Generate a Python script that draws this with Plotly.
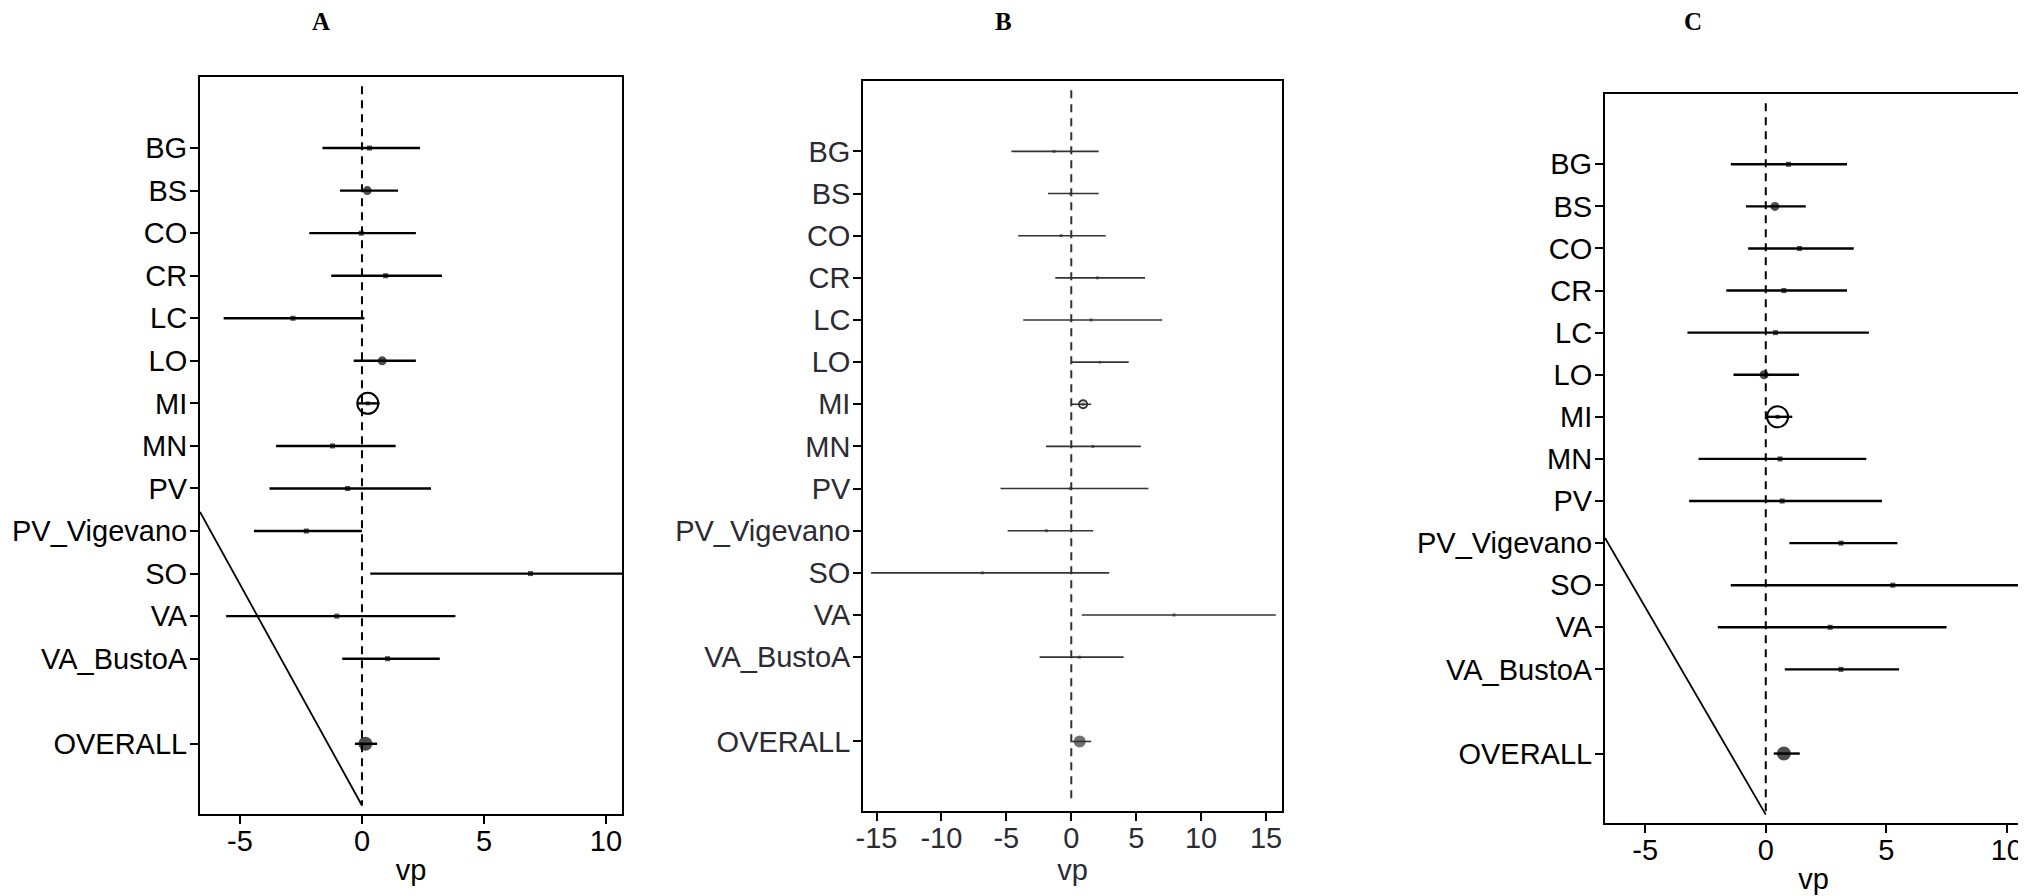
import plotly.graph_objects as go

# ---------------- data ----------------
sites = ["BG", "BS", "CO", "CR", "LC", "LO", "MI", "MN", "PV",
         "PV_Vigevano", "SO", "VA", "VA_BustoA", "OVERALL"]
ypos = [14, 13, 12, 11, 10, 9, 8, 7, 6, 5, 4, 3, 2, 0]

est_A = [0.31, 0.22, -0.03, 0.97, -2.83, 0.83, 0.24, -1.21, -0.59, -2.28, 6.91, -1.03, 1.05, 0.14]
lo_A = [-1.62, -0.90, -2.16, -1.26, -5.67, -0.34, -0.16, -3.52, -3.79, -4.43, 0.34, -5.57, -0.81, -0.29]
hi_A = [2.38, 1.48, 2.21, 3.28, 0.10, 2.21, 0.72, 1.38, 2.83, 0.00, 13.5, 3.83, 3.19, 0.62]

est_B = [-1.33, -0.06, -0.78, 2.01, 1.53, 2.20, 0.91, 1.66, -0.06, -1.92, -6.85, 7.92, 0.62, 0.65]
lo_B = [-4.61, -1.79, -4.09, -1.23, -3.70, 0.03, 0.00, -1.95, -5.45, -4.90, -15.42, 0.81, -2.44, 0.06]
hi_B = [2.11, 2.11, 2.66, 5.68, 7.01, 4.42, 1.53, 5.36, 5.94, 1.69, 2.92, 15.75, 4.03, 1.53]

est_C = [0.94, 0.38, 1.40, 0.75, 0.40, -0.07, 0.49, 0.59, 0.68, 3.12, 5.27, 2.67, 3.12, 0.75]
lo_C = [-1.45, -0.82, -0.73, -1.64, -3.25, -1.34, 0.00, -2.79, -3.18, 0.98, -1.45, -1.99, 0.79, 0.33]
hi_C = [3.37, 1.66, 3.65, 3.37, 4.28, 1.38, 1.10, 4.17, 4.82, 5.46, 12.0, 7.50, 5.53, 1.41]

# slanted reference lines (A and C) : x, y end points
slant_A_x = [-6.64, 0.0]
slant_A_y = [5.45, -1.45]
slant_C_x = [-6.67, 0.0]
slant_C_y = [5.12, -1.45]

# null line extent
null_y = [15.45, -1.45]

xtick_A = [-5, 0, 5, 10]
xtick_B = [-15, -10, -5, 0, 5, 10, 15]
xtick_C = [-5, 0, 5, 10]

panel_titles = ["A", "B", "C"]

# ---------------- styles ----------------
OFF = 8                      # default page body margin
W, H = 2026 - OFF, 896 - OFF
FONT = "Liberation Sans, Arial, sans-serif"
FS = 29
size_AC = [5, 9, 5, 5, 5, 9, 4, 5, 5, 5, 5, 5, 5, 14]
size_B = [3, 3, 3, 3, 3, 3, 3, 3, 3, 3, 3, 3, 3, 12]

panels = [
    dict(est=est_A, lo=lo_A, hi=hi_A, sizes=size_AC, color="#000000", lw=2.4,
         xr=[-6.64, 10.66], box=(200, 622, 77, 814), ticks=xtick_A,
         slant=(slant_A_x, slant_A_y), mi=21, tcolor="#000000", title_x=321),
    dict(est=est_B, lo=lo_B, hi=hi_B, sizes=size_B, color="#333333", lw=1.6,
         xr=[-16.04, 16.23], box=(863, 1282, 81, 811), ticks=xtick_B,
         slant=None, mi=8, tcolor="#2b2b33", title_x=1003),
    dict(est=est_C, lo=lo_C, hi=hi_C, sizes=size_AC, color="#000000", lw=2.4,
         xr=[-6.67, 10.63], box=(1605, 2022, 94, 823), ticks=xtick_C,
         slant=(slant_C_x, slant_C_y), mi=21, tcolor="#000000", title_x=1693),
]

fig = go.Figure()
layout = dict(
    template="none",
    width=W, height=H, margin=dict(l=0, r=0, t=0, b=0, autoexpand=False),
    paper_bgcolor="white", plot_bgcolor="white", showlegend=False,
    annotations=[],
)


def px_x(v):
    return (v - OFF) / W


def px_y(v):
    return 1 - (v - OFF) / H


for i, p in enumerate(panels):
    k = "" if i == 0 else str(i + 1)
    xa, ya = "x" + k, "y" + k
    # CI lines
    cx, cy = [], []
    for lo, hi, y in zip(p["lo"], p["hi"], ypos):
        cx += [lo, hi, None]
        cy += [y, y, None]
    fig.add_trace(go.Scatter(x=cx, y=cy, mode="lines", xaxis=xa, yaxis=ya,
                             line=dict(color=p["color"], width=p["lw"]),
                             hoverinfo="skip"))
    # null line
    fig.add_trace(go.Scatter(x=[0, 0], y=null_y, mode="lines", xaxis=xa, yaxis=ya,
                             line=dict(color=p["color"], width=2, dash="8px,6px"),
                             hoverinfo="skip"))
    # slanted line
    if p["slant"] is not None:
        fig.add_trace(go.Scatter(x=p["slant"][0], y=p["slant"][1], mode="lines",
                                 xaxis=xa, yaxis=ya,
                                 line=dict(color="#000000", width=1.8), hoverinfo="skip"))
    # point estimates
    symbols = ["square"] * 13 + ["circle"]
    symbols[1] = "circle"
    symbols[5] = "circle"
    fig.add_trace(go.Scatter(x=p["est"], y=ypos, mode="markers", xaxis=xa, yaxis=ya,
                             marker=dict(color=p["color"], size=p["sizes"],
                                         symbol=symbols, line=dict(width=0)),
                             text=sites, hoverinfo="text+x"))
    # MI open circle
    mi = sites.index("MI")
    fig.add_trace(go.Scatter(x=[p["est"][mi]], y=[ypos[mi]], mode="markers",
                             xaxis=xa, yaxis=ya,
                             marker=dict(symbol="circle-open", size=p["mi"],
                                         color=p["color"], line=dict(width=2, color=p["color"])),
                             hoverinfo="skip"))
    x0, x1, t0, t1 = p["box"]
    axcommon = dict(showline=True, mirror=True, linecolor="#000000",
                    linewidth=2 if i != 1 else 1.6, ticks="outside", ticklen=8,
                    tickwidth=2 if i != 1 else 1.6, tickcolor="#000000",
                    showgrid=False, zeroline=False, automargin=False,
                    tickfont=dict(family=FONT, size=FS, color=p["tcolor"]))
    layout["xaxis" + k] = dict(
        axcommon, domain=[px_x(x0), min(px_x(x1), 1.0)], range=p["xr"], anchor=ya,
        tickvals=p["ticks"], ticktext=[str(t) for t in p["ticks"]],
        ticklabelstandoff=-8,
        title=dict(text="vp", font=dict(family=FONT, size=FS, color=p["tcolor"]), standoff=4),
    )
    layout["yaxis" + k] = dict(
        axcommon, domain=[px_y(t1), px_y(t0)], range=[-1.65, 15.67], anchor=xa,
        tickvals=ypos, ticktext=sites, ticklabelstandoff=-3,
    )
    layout["annotations"].append(dict(
        text="<b>%s</b>" % panel_titles[i], xref="paper", yref="paper",
        x=px_x(p["title_x"]), y=px_y(22), xanchor="center", yanchor="middle",
        showarrow=False, font=dict(family="Liberation Serif, Times New Roman, serif",
                                   size=25, color="#000000")))

fig.update_layout(**layout)
fig.write_html("out.html")
